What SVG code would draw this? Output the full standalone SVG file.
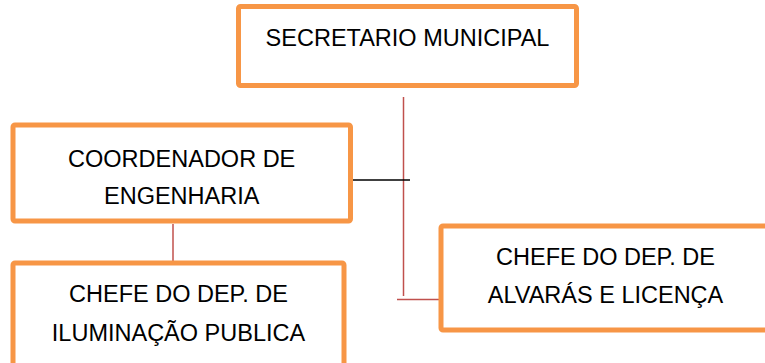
<svg xmlns="http://www.w3.org/2000/svg" width="765" height="363" viewBox="0 0 765 363">
<style>
.box{fill:#fff;stroke:#F79646;stroke-width:5;stroke-linejoin:round}
.t{font-family:"Liberation Sans",Arial,sans-serif;font-size:23.5px;fill:#000;text-anchor:middle}
.red{stroke:#C0504D;stroke-width:1.5;fill:none}
.blk{stroke:#000;stroke-width:1.5;fill:none}
</style>
<rect width="765" height="363" fill="#fff"/>
<g id="connectors">
<line class="red" x1="403.5" y1="97" x2="403.5" y2="296"/>
<line class="red" x1="397" y1="299.5" x2="439" y2="299.5"/>
<line class="blk" x1="352" y1="180" x2="410" y2="180"/>
<line class="red" x1="173" y1="224" x2="173" y2="263"/>
</g>
<g id="secretario">
<rect class="box" x="238.5" y="6.5" width="338" height="79" rx="2"/>
<text class="t" x="407.5" y="45.7">SECRETARIO MUNICIPAL</text>
</g>
<g id="coordenador">
<rect class="box" x="13" y="125" width="337.5" height="96" rx="2"/>
<text class="t" x="181.7" y="166.7">COORDENADOR DE</text>
<text class="t" x="181.7" y="204.3">ENGENHARIA</text>
</g>
<g id="iluminacao">
<rect class="box" x="13" y="263" width="331" height="115" rx="2"/>
<text class="t" x="178.5" y="301.7">CHEFE DO DEP. DE</text>
<text class="t" x="178.5" y="340.7">ILUMINAÇÃO PUBLICA</text>
</g>
<g id="alvaras">
<rect class="box" x="441" y="226" width="329" height="104" rx="2"/>
<text class="t" x="605.5" y="265">CHEFE DO DEP. DE</text>
<text class="t" x="605.5" y="303.3">ALVARÁS E LICENÇA</text>
</g>
</svg>
